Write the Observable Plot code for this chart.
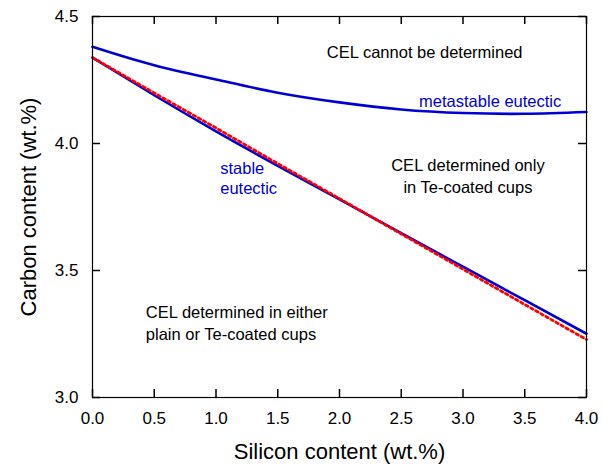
<!DOCTYPE html>
<html>
<head>
<meta charset="utf-8">
<script src="https://cdn.jsdelivr.net/npm/d3@7"></script>
<script src="https://cdn.jsdelivr.net/npm/@observablehq/plot@0.6"></script>
<style>
  html, body { margin: 0; padding: 0; background: #fff; }
  #chart svg { display: block; }
</style>
</head>
<body>
<div id="chart"></div>
<script>
// Silicon content grid (wt.%)
const silicon = [0, 0.5, 1.0, 1.5, 2.0, 2.5, 3.0, 3.5, 4.0];
// Metastable eutectic carbon (wt.%)
const metastable = [4.381, 4.308, 4.252, 4.200, 4.162, 4.134, 4.120, 4.117, 4.124];
// Stable eutectic carbon (wt.%), solid blue
const stable = [4.338, 4.190, 4.048, 3.912, 3.780, 3.647, 3.515, 3.383, 3.251];
// Red dotted line
const dotted = [4.338, 4.199, 4.061, 3.921, 3.783, 3.644, 3.505, 3.366, 3.228];

const xTicks = [0, 0.5, 1.0, 1.5, 2.0, 2.5, 3.0, 3.5, 4.0];
const yTicks = [3.0, 3.5, 4.0, 4.5];

const xTitle = "Silicon content (wt.%)";
const yTitle = "Carbon content (wt.%)";

// Annotations (data coordinates)
const centeredBlack = [
  {si: 2.69, c: 4.362, text: "CEL cannot be determined"},
  {si: 3.04, c: 3.875, text: "CEL determined only\nin Te-coated cups"}
];
const leftBlack = [
  {si: 0.432, c: 3.297, text: "CEL determined in either\nplain or Te-coated cups"}
];
const centeredBlue = [
  {si: 3.22, c: 4.165, text: "metastable eutectic"}
];
const leftBlue = [
  {si: 1.034, c: 3.867, text: "stable\neutectic"}
];

const W = 603, H = 466, ML = 92, MR = 17, MT = 16, MB = 69, TICK = 8;
const FW = W - ML - MR, FH = H - MT - MB;

const rows = (ys) => silicon.map((s, i) => ({si: s, c: ys[i]}));
const BLUE = "#0000d2";
const fmt = d3.format(".1f");
const tickStyle = {stroke: "#000", strokeWidth: 1.5};

const chart = Plot.plot({
  width: W,
  height: H,
  marginLeft: ML,
  marginRight: MR,
  marginTop: MT,
  marginBottom: MB,
  style: {fontFamily: "'Liberation Sans', Arial, sans-serif", background: "#fff", color: "#000"},
  x: {domain: [0, 4]},
  y: {domain: [3, 4.5]},
  marks: [
    Plot.axisX(xTicks, {anchor: "bottom", tickSize: 0, tickPadding: 14, tickFormat: fmt, fontSize: 17, label: null}),
    Plot.axisY(yTicks, {anchor: "left", tickSize: 0, tickPadding: 14, tickFormat: fmt, fontSize: 17, label: null}),
    Plot.text([xTitle], {text: (d) => d, frameAnchor: "bottom", lineAnchor: "middle", dy: 54, fontSize: 22, fill: "#000"}),
    Plot.text([yTitle], {text: (d) => d, frameAnchor: "left", textAnchor: "middle", lineAnchor: "middle", dx: -64, rotate: -90, fontSize: 22, fill: "#000"}),
    // inward ticks on all four sides
    Plot.ruleX(xTicks, {x: (d) => d, insetTop: FH - TICK, ...tickStyle}),
    Plot.ruleX(xTicks, {x: (d) => d, insetBottom: FH - TICK, ...tickStyle}),
    Plot.ruleY(yTicks, {y: (d) => d, insetRight: FW - TICK, ...tickStyle}),
    Plot.ruleY(yTicks, {y: (d) => d, insetLeft: FW - TICK, ...tickStyle}),
    Plot.line(rows(metastable), {x: "si", y: "c", stroke: BLUE, strokeWidth: 2.6, curve: "natural"}),
    Plot.line(rows(stable), {x: "si", y: "c", stroke: BLUE, strokeWidth: 2.6, curve: "natural"}),
    Plot.line(rows(dotted), {x: "si", y: "c", stroke: "#ff0000", strokeWidth: 2.8, strokeDasharray: "2.6,3.2"}),
    Plot.text(centeredBlack, {x: "si", y: "c", text: "text", textAnchor: "middle", fontSize: 16.5, lineHeight: 1.3, fill: "#000"}),
    Plot.text(leftBlack, {x: "si", y: "c", text: "text", textAnchor: "start", fontSize: 16.5, lineHeight: 1.35, fill: "#000"}),
    Plot.text(centeredBlue, {x: "si", y: "c", text: "text", textAnchor: "middle", fontSize: 16.5, fill: BLUE}),
    Plot.text(leftBlue, {x: "si", y: "c", text: "text", textAnchor: "start", fontSize: 16.5, lineHeight: 1.25, fill: BLUE}),
    Plot.frame({stroke: "#000", strokeWidth: 1.2})
  ]
});
document.getElementById("chart").append(chart);
</script>
</body>
</html>
